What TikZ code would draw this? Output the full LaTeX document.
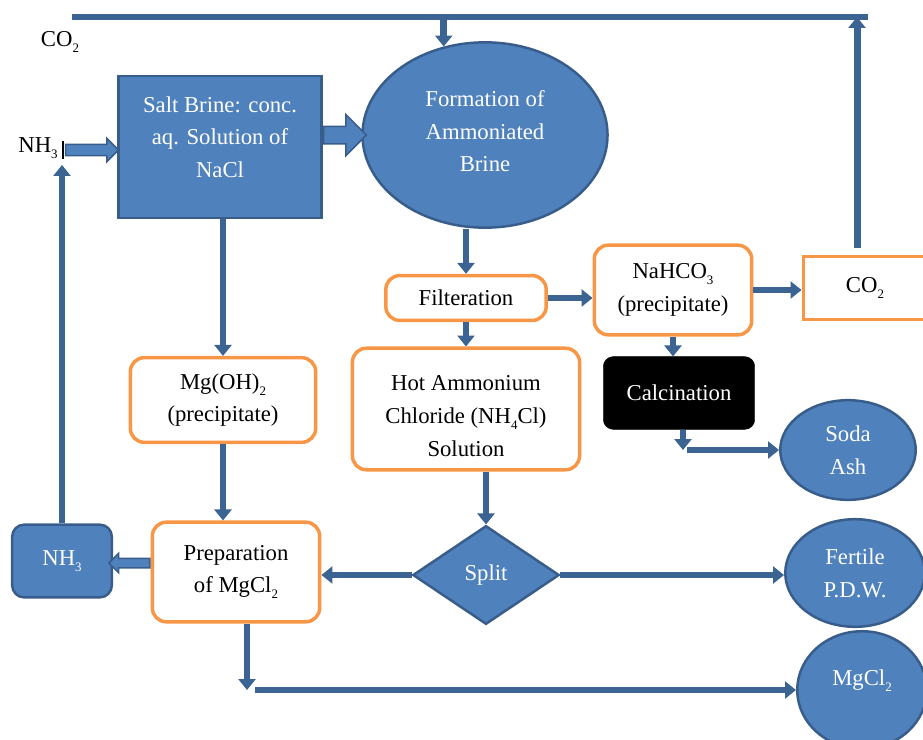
\documentclass[tikz,border=0pt]{standalone}
\usepackage{fontspec}
\setmainfont{Liberation Serif}
\usetikzlibrary{shapes.geometric,shapes.arrows,arrows.meta}
\definecolor{boxblue}{HTML}{4F81BD}
\definecolor{rimblue}{HTML}{385D8A}
\definecolor{pipeblue}{HTML}{3B6493}
\definecolor{rimorange}{HTML}{F79646}
\def\s{0.03528}
\def\punkt#1#2{({(#1)*\s},{-(#2)*\s})}
\def\tief#1{\raisebox{-6pt}{\fontsize{13}{13}\selectfont #1}}

\begin{document}
\begin{tikzpicture}[
  every node/.style={font=\fontsize{22.8}{33}\selectfont, align=center, inner sep=0pt},
  bluebox/.style={draw=rimblue, fill=boxblue, line width=2.5pt, text=white},
  blueball/.style={bluebox, ellipse},
  orangebox/.style={draw=rimorange, fill=white, line width=3.5pt, rounded corners=14pt},
  flow/.style={draw=pipeblue, line width=7pt, -{Triangle[length=11pt,width=17pt]}},
  pipe/.style={draw=pipeblue, line width=7pt},
  fatarrow/.style={single arrow, draw=rimblue, fill=boxblue, line width=1.5pt, inner xsep=0pt, single arrow head extend=#1}
]
\useasboundingbox \punkt{0}{0} rectangle \punkt{923}{739};
\clip \punkt{0}{0} rectangle \punkt{923}{739};

\node[bluebox, minimum width=204pt, minimum height=143pt] (brine) at \punkt{220}{147} {Salt Brine: conc.\\aq. Solution of\\NaCl\rule[-20pt]{0pt}{0pt}};
\node[blueball, minimum width=246pt, minimum height=186pt] (form) at \punkt{485}{135} {Formation of\\Ammoniated\\Brine\rule[-8pt]{0pt}{0pt}};
\node[orangebox, minimum width=161pt, minimum height=45pt] (filt) at \punkt{466}{298} {Filteration};
\node[orangebox, minimum width=158pt, minimum height=90pt] (nahco) at \punkt{673}{290} {NaHCO\tief{3}\\(precipitate)};
\node[draw=rimorange, line width=3.5pt, minimum width=124pt, minimum height=63pt] (co2b) at \punkt{865}{288} {CO\tief{2}};
\node[draw, fill=black, text=white, rounded corners=10pt, minimum width=152pt, minimum height=73pt] (calc) at \punkt{679}{393} {Calcination};
\node[blueball, minimum width=136pt, minimum height=100pt] (soda) at \punkt{848}{450} {Soda\\Ash};
\node[orangebox, minimum width=228pt, minimum height=122pt] (hot) at \punkt{466}{409} {\rule{0pt}{30pt}Hot Ammonium\\Chloride (NH\tief{4}Cl)\\Solution};
\node[bluebox, diamond, minimum width=147pt, minimum height=99pt] (split) at \punkt{486}{575} {Split};
\node[orangebox, minimum width=186pt, minimum height=85pt] (mgoh) at \punkt{223}{400} {Mg(OH)\tief{2}\\(precipitate)};
\node[orangebox, minimum width=168pt, minimum height=100pt] (prep) at \punkt{236}{572} {Preparation\\of MgCl\tief{2}};
\node[bluebox, rounded corners=12pt, minimum width=100pt, minimum height=73pt] (nh3b) at \punkt{62}{561} {NH\tief{3}};
\node[blueball, minimum width=140pt, minimum height=108pt] (fert) at \punkt{855}{573} {Fertile\\P.D.W.};
\node[blueball, minimum width=130pt, minimum height=118pt] (mgcl) at \punkt{862}{690} {\raisebox{24pt}{MgCl\tief{2}}};

\node (co2lbl) at \punkt{60}{42} {CO\tief{2}};
\node (nh3lbl) at \punkt{38}{148} {NH\tief{3}};
\path \punkt{63}{150} coordinate (nh3in);
\path \punkt{62}{165} coordinate (nh3tip);
\path \punkt{72}{17} coordinate (co2in);
\path \punkt{868}{17} coordinate (rcend);
\path \punkt{857}{17} coordinate (rctop);
\path \punkt{857}{248} coordinate (rcbot);
\path \punkt{683}{450} coordinate (sodaturn);
\path \punkt{247}{690} coordinate (mgturn);

\draw[line width=2.5pt] ([yshift=9pt]nh3in) -- ([yshift=-9pt]nh3in);
\node[fatarrow=6pt, inner ysep=5pt, minimum height=53pt, anchor=tail] (a1) at ([xshift=2pt]nh3in) {};
\node[fatarrow=12pt, inner ysep=8pt, minimum height=43pt, anchor=tail] (a2) at ([yshift=12pt]brine.east) {};
\node[fatarrow=5pt, inner ysep=4pt, minimum height=41pt, anchor=tail, shape border rotate=180] (a3) at ([yshift=9pt]prep.west) {};

\draw[pipe] (co2in) -- (rcend);
\draw[flow] (rcbot) -- (rctop);
\draw[flow] (form.115 |- co2in) -- (form.115);
\draw[flow] (nh3b.north) -- (nh3tip);
\draw[flow] (filt.north |- form.south) -- (filt.north);
\draw[flow] (filt.east) -- (filt.east -| nahco.west);
\draw[flow] (nahco.east) -- (nahco.east -| co2b.west);
\draw[flow] (nahco.south) -- (nahco.south |- calc.north);
\draw[flow] (calc.south -| sodaturn) -- (sodaturn);
\draw[flow] ([xshift=4pt]sodaturn) -- (soda.west);
\draw[flow] (filt.south) -- (hot.north);
\draw[flow] (hot.south -| split.north) -- (split.north);
\draw[flow] (split.west) -- (split.west -| prep.east);
\draw[flow] (split.east) -- (split.east -| fert.west);
\draw[flow] (mgoh.north |- brine.south) -- (mgoh.north);
\draw[flow] (mgoh.south) -- (mgoh.south |- prep.north);
\draw[flow] (prep.south -| mgturn) -- (mgturn);
\draw[flow] ([xshift=8pt]mgturn) -- (mgcl.west);
\end{tikzpicture}
\end{document}
